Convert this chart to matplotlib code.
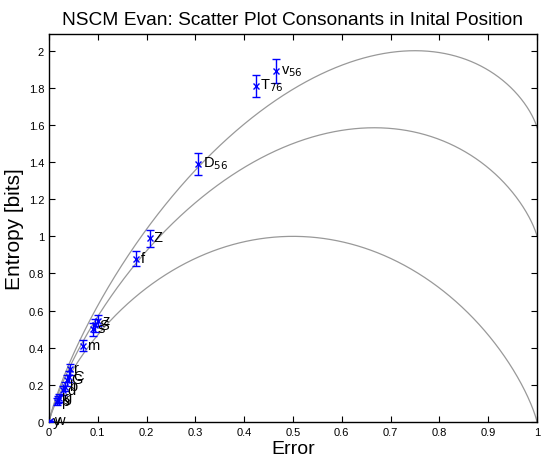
import numpy as np
import matplotlib
matplotlib.use("Agg")
import matplotlib.pyplot as plt

plt.rcParams['font.family'] = ['Liberation Sans', 'DejaVu Sans']

# Data
labels = ['v$_{56}$', 'T$_{76}$', 'D$_{56}$', 'Z', 'f', 'z', 'S', 's', 'm',
          'r', 'C', 'G', 'b', 'd', 'g', 'k', 'p', 'w', 'y']
err_x = [0.466, 0.424, 0.306, 0.206, 0.179, 0.100, 0.094, 0.090, 0.069,
         0.043, 0.040, 0.037, 0.033, 0.028, 0.020, 0.018, 0.016, 0.002, 0.000]
ent_y = [1.89, 1.81, 1.39, 0.99, 0.88, 0.545, 0.52, 0.50, 0.41,
         0.285, 0.245, 0.225, 0.19, 0.17, 0.13, 0.12, 0.11, 0.005, 0.0]
ent_e = [0.065, 0.057, 0.06, 0.045, 0.04, 0.03, 0.035, 0.035, 0.03,
         0.03, 0.03, 0.03, 0.025, 0.025, 0.02, 0.02, 0.02, 0.0, 0.0]

alphabet_sizes = [2, 3, 4]   # Fano bound curves
xticks = [0, 0.1, 0.2, 0.3, 0.4, 0.5, 0.6, 0.7, 0.8, 0.9, 1]
xtick_labels = ['0', '0.1', '0.2', '0.3', '0.4', '0.5', '0.6', '0.7', '0.8', '0.9', '1']
yticks = [0, 0.2, 0.4, 0.6, 0.8, 1, 1.2, 1.4, 1.6, 1.8, 2]
ytick_labels = ['0', '0.2', '0.4', '0.6', '0.8', '1', '1.2', '1.4', '1.6', '1.8', '2']

fig = plt.figure(figsize=(5.41, 4.64), dpi=100)
ax = fig.add_axes([49/541, 41/464, 488/541, 388/464])

p = np.linspace(1e-6, 1 - 1e-6, 800)
Hb = -p*np.log2(p) - (1-p)*np.log2(1-p)
for N in alphabet_sizes:
    ax.plot(p, Hb + p*np.log2(N-1), color='#999999', lw=0.9, zorder=1)

ax.errorbar(err_x, ent_y, yerr=ent_e, fmt='x', color='#0000ff', ms=5, mew=1.0,
            elinewidth=1.0, capsize=3, capthick=1.0, zorder=3)
for lab, x, y in zip(labels, err_x, ent_y):
    ax.text(x + 0.009, y + 0.005, lab, fontsize=10.5, ha='left', va='center', zorder=4)

ax.set_xlim(0, 1)
ax.set_ylim(0, 2.09)
ax.set_xticks(xticks)
ax.set_xticklabels(xtick_labels)
ax.set_yticks(yticks)
ax.set_yticklabels(ytick_labels)
ax.tick_params(direction='in', top=True, right=True, labelsize=8, length=4, width=0.8)
for s in ax.spines.values():
    s.set_linewidth(1.0)
ax.set_xlabel('Error', fontsize=14, labelpad=2)
ax.set_ylabel('Entropy [bits]', fontsize=15, labelpad=3)
ax.set_title('NSCM Evan: Scatter Plot Consonants in Inital Position', fontsize=13.8, pad=7)

fig.savefig('out.png', dpi=100)
